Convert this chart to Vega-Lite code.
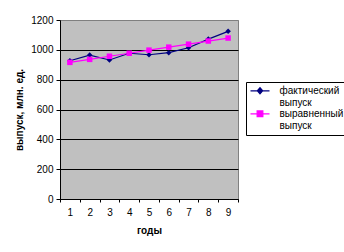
{
  "$schema": "https://vega.github.io/schema/vega-lite/v6.json",
  "autosize": "none",
  "width": 178,
  "height": 179,
  "padding": {"left": 60, "top": 20, "right": 106, "bottom": 53},
  "background": "white",
  "config": {
    "font": "Liberation Sans",
    "view": {"fill": "#C0C0C0", "stroke": "#808080"},
    "axis": {"labelFontSize": 10, "labelColor": "black", "tickColor": "black", "domainColor": "black", "titleFontSize": 10, "titleColor": "black", "titleFontWeight": "bold"}
  },
  "data": {"values": [
    {"год": 1, "ряд": "фактический выпуск", "выпуск": 927},
    {"год": 2, "ряд": "фактический выпуск", "выпуск": 965},
    {"год": 3, "ряд": "фактический выпуск", "выпуск": 932},
    {"год": 4, "ряд": "фактический выпуск", "выпуск": 977},
    {"год": 5, "ряд": "фактический выпуск", "выпуск": 967},
    {"год": 6, "ряд": "фактический выпуск", "выпуск": 981},
    {"год": 7, "ряд": "фактический выпуск", "выпуск": 1014},
    {"год": 8, "ряд": "фактический выпуск", "выпуск": 1072},
    {"год": 9, "ряд": "фактический выпуск", "выпуск": 1124},
    {"год": 1, "ряд": "выравненный выпуск", "выпуск": 916},
    {"год": 2, "ряд": "выравненный выпуск", "выпуск": 936},
    {"год": 3, "ряд": "выравненный выпуск", "выпуск": 957},
    {"год": 4, "ряд": "выравненный выпуск", "выпуск": 977},
    {"год": 5, "ряд": "выравненный выпуск", "выпуск": 998},
    {"год": 6, "ряд": "выравненный выпуск", "выпуск": 1018},
    {"год": 7, "ряд": "выравненный выпуск", "выпуск": 1038},
    {"год": 8, "ряд": "выравненный выпуск", "выпуск": 1059},
    {"год": 9, "ряд": "выравненный выпуск", "выпуск": 1079}
  ]},
  "encoding": {
    "x": {"field": "год", "type": "ordinal", "scale": {"paddingInner": 0, "paddingOuter": 0},
      "axis": {"title": "годы", "labelAngle": 0, "tickBand": "extent", "grid": false, "tickSize": 3, "labelPadding": 5, "titlePadding": 8}},
    "y": {"field": "выпуск", "type": "quantitative", "scale": {"domain": [0, 1200], "nice": false},
      "axis": {"title": "выпуск, млн. ед.", "format": "d", "values": [0, 200, 400, 600, 800, 1000, 1200], "grid": true,
        "gridColor": {"condition": {"test": "datum.value === 1200", "value": "#808080"}, "value": "black"},
        "gridOpacity": 1, "tickSize": 4, "labelPadding": 3, "titlePadding": 6}}
  },
  "layer": [
    {"mark": {"type": "line", "strokeWidth": 1.2},
     "encoding": {
       "color": {"field": "ряд", "type": "nominal",
         "scale": {"domain": ["фактический выпуск", "выравненный выпуск"], "range": ["#000080", "#FF00FF"]},
         "legend": {
           "title": null, "orient": "none", "legendX": 186, "legendY": 62,
           "strokeColor": "black", "fillColor": "white", "padding": 4,
           "labelFontSize": 10, "labelColor": "black", "labelLimit": 200,
           "labelExpr": "split(datum.label, ' ')",
           "symbolSize": 100, "symbolOffset": -0.5, "labelOffset": 9, "rowPadding": 0, "labelBaseline": "top",
           "encode": {
             "symbols": {"update": {
               "shape": {"signal": "datum.value === 'фактический выпуск' ? 'M-1,-0.6H1M0,-0.92L0.28,-0.6L0,-0.28L-0.28,-0.6Z' : 'M-1,-0.6H1M-0.3,-0.9H0.3V-0.3H-0.3Z'"},
               "size": {"value": 361},
               "fill": {"signal": "datum.value === 'фактический выпуск' ? '#000080' : '#FF00FF'"},
               "stroke": {"signal": "datum.value === 'фактический выпуск' ? '#000080' : '#FF00FF'"},
               "strokeWidth": {"value": 1.2},
               "opacity": {"value": 1},
               "fillOpacity": {"value": 1}
             }},
             "labels": {"update": {"lineHeight": {"value": 12}, "dy": {"value": -10.5}}}
           }
         }}
     }},
    {"transform": [{"filter": "datum['ряд'] === 'фактический выпуск'"}],
     "mark": {"type": "point", "filled": true, "opacity": 1, "shape": "diamond", "color": "#000080", "size": 30}},
    {"transform": [{"filter": "datum['ряд'] === 'выравненный выпуск'"}],
     "mark": {"type": "point", "filled": true, "opacity": 1, "shape": "square", "color": "#FF00FF", "size": 30}}
  ]
}
